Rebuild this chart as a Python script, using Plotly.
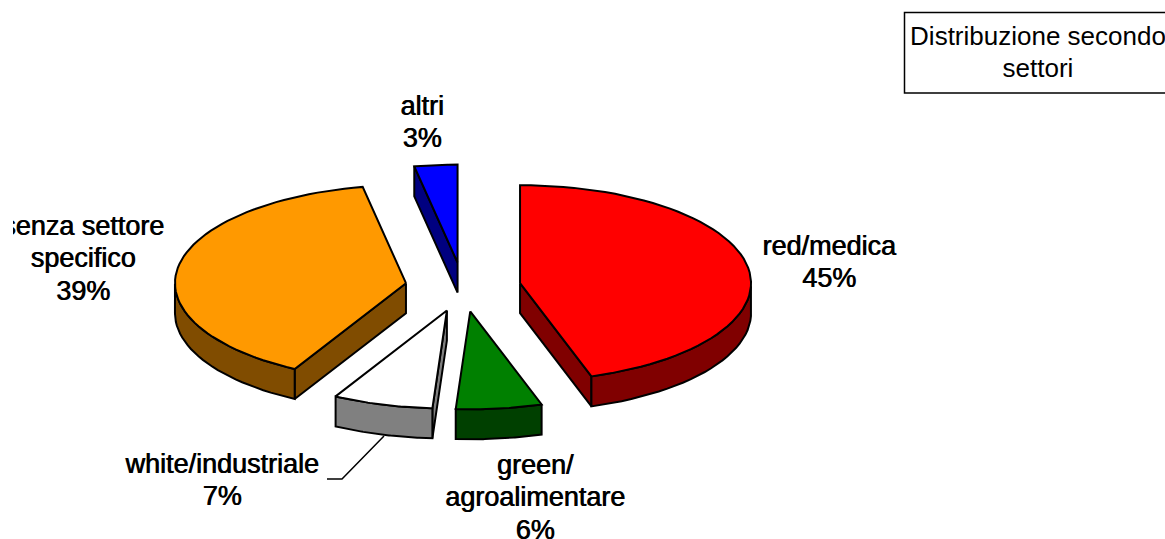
import math
import plotly.graph_objects as go

# Data
categories = ["red/medica", "green/agroalimentare", "white/industriale", "senza settore specifico", "altri"]
shares = [45, 6, 7, 39, 3]
top_colors = ["#ff0000", "#008000", "#ffffff", "#ff9900", "#0000ff"]
side_colors = ["#800000", "#004000", "#808080", "#804c00", "#000080"]
label_lines = [
    ["red/medica", "45%"],
    ["green/", "agroalimentare", "6%"],
    ["white/industriale", "7%"],
    ["senza settore", "specifico", "39%"],
    ["altri", "3%"],
]
label_anchor_x = [829, 535, 222, 83, 422]
label_anchor_y = [248, 467, 466, 228, 108]
title_lines = ["Distribuzione secondo", "settori"]

# Pie geometry (pixel-like axis units)
CX, CY = 463, 287
RX, RY = 231, 98
DEPTH = 30
EXPLODE = 0.25
LINE_GAP = 32.5
CLIP_LEFT = 13
FONT = "Liberation Sans, Arial, sans-serif"


def pt(t, cx, cy, dz=0):
    return cx + RX * math.sin(t), cy - RY * math.cos(t) + dz


fig = go.Figure()


def poly(points, color):
    xs = [p[0] for p in points] + [points[0][0]]
    ys = [p[1] for p in points] + [points[0][1]]
    fig.add_trace(go.Scatter(x=xs, y=ys, mode="lines", fill="toself", fillcolor=color,
                             line=dict(color="black", width=2), hoverinfo="skip", showlegend=False))


def face_visible(t_edge, t_mid):
    dx, dy = math.sin(t_edge), -math.cos(t_edge)
    mx, my = math.sin(t_mid), -math.cos(t_mid)
    if abs(dx) < 1e-9:
        return False
    return my < dy / dx * mx


total = sum(shares)
cum = 0
order = []
for i, s in enumerate(shares):
    t0 = 2 * math.pi * cum / total
    t1 = 2 * math.pi * (cum + s) / total
    cum += s
    order.append((i, t0, t1))

for i, t0, t1 in order:
    tm = (t0 + t1) / 2
    cx, cy = pt(tm, 0, 0)
    cx = CX + EXPLODE * cx
    cy = CY + EXPLODE * cy
    n = 60
    arc = [t0 + (t1 - t0) * k / n for k in range(n + 1)]
    # Cut faces
    for te in (t0, t1):
        if face_visible(te, tm):
            p = pt(te, cx, cy)
            poly([(cx, cy), p, (p[0], p[1] + DEPTH), (cx, cy + DEPTH)], side_colors[i])
    # Outer rim: the part of the arc on the near half of the ellipse
    vis = [t for t in arc if math.pi / 2 <= t <= 3 * math.pi / 2]
    if len(vis) > 1:
        upper = [pt(t, cx, cy) for t in vis]
        lower = [pt(t, cx, cy, DEPTH) for t in reversed(vis)]
        poly(upper + lower, side_colors[i])
    # Top face
    poly([(cx, cy)] + [pt(t, cx, cy) for t in arc], top_colors[i])

# Leader line for the white slice
fig.add_trace(go.Scatter(x=[327, 342, 384], y=[479, 479, 436], mode="lines",
                         line=dict(color="black", width=1.5), hoverinfo="skip", showlegend=False))

# Labels, clipped by the plot area like the original
tx, ty, tt = [], [], []
for lines, ax, ay in zip(label_lines, label_anchor_x, label_anchor_y):
    for k, line in enumerate(lines):
        tx.append(ax)
        ty.append(ay + k * LINE_GAP)
        tt.append(line)
fig.add_trace(go.Scatter(x=tx, y=ty, text=tt, mode="text", textposition="middle center",
                         cliponaxis=True, hoverinfo="skip", showlegend=False,
                         textfont=dict(family=FONT, size=27, color="black",
                                       shadow="0.7px 0 0 #000")))

# Title box
fig.add_shape(type="rect", x0=904.5, x1=1180, y0=12.5, y1=93, xref="x", yref="y",
              line=dict(color="black", width=1.5), fillcolor="white", layer="below")
fig.add_trace(go.Scatter(x=[1038, 1038], y=[38, 70], text=title_lines, mode="text",
                         textposition="middle center", cliponaxis=False, hoverinfo="skip", showlegend=False,
                         textfont=dict(family=FONT, size=26, color="black")))

fig.update_layout(
    width=1165, height=539, margin=dict(l=0, r=0, t=0, b=0),
    paper_bgcolor="white", plot_bgcolor="white", showlegend=False,
    xaxis=dict(range=[CLIP_LEFT, 1165], domain=[CLIP_LEFT / 1165, 1], visible=False, fixedrange=True),
    yaxis=dict(range=[539, 0], domain=[0, 1], visible=False, fixedrange=True),
)
fig.write_html("out.html", config={"displayModeBar": False},
               post_script="document.body.style.margin='0';")
